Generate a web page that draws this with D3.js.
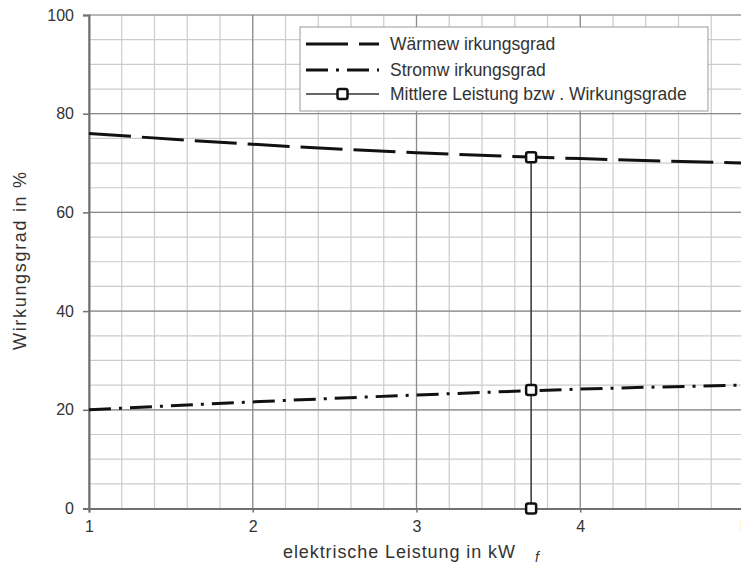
<!DOCTYPE html>
<html>
<head>
<meta charset="utf-8">
<script src="https://cdn.jsdelivr.net/npm/d3@7"></script>
<style>
  body { margin: 0; background: #fff; }
  svg { display: block; font-family: "Liberation Sans", Arial, sans-serif; }
</style>
</head>
<body>
<script>
// Werte
var leistung = [1, 2, 3, 4, 5]
var waermeWirkungsgrad = [76, 73.8, 72.1, 70.9, 70]
var stromWirkungsgrad = [20, 21.6, 23, 24.2, 25]
var mittlereLeistung = 3.7
var mittlereWerte = [0, 24, 71.2]
var xTicks = [1, 2, 3, 4, 5]
var yTicks = [0, 20, 40, 60, 80, 100]
var legendLabels = ["Wärmew irkungsgrad", "Stromw irkungsgrad", "Mittlere Leistung bzw . Wirkungsgrade"]

var width = 741, height = 565

var svg = d3.select("body").append("svg")
    .attr("width", width)
    .attr("height", height)

var x = d3.scaleLinear().domain([1, 5]).range([89, 744])
var y = d3.scaleLinear().domain([0, 100]).range([508.5, 15])

// Gitter
var g = svg.append("g")
g.selectAll(".minx").data(d3.range(1, 5.001, 0.2)).join("line")
    .attr("x1", d => x(d)).attr("x2", d => x(d))
    .attr("y1", y(0)).attr("y2", y(100))
    .attr("stroke", "#cccccc").attr("stroke-width", 1.2)
g.selectAll(".miny").data(d3.range(0, 100.1, 5)).join("line")
    .attr("x1", x(1)).attr("x2", x(5))
    .attr("y1", d => y(d)).attr("y2", d => y(d))
    .attr("stroke", "#cccccc").attr("stroke-width", 1.2)
g.selectAll(".majx").data(xTicks).join("line")
    .attr("x1", d => x(d)).attr("x2", d => x(d))
    .attr("y1", y(0)).attr("y2", y(100))
    .attr("stroke", "#8a8a8a").attr("stroke-width", 1.2)
g.selectAll(".majy").data(yTicks).join("line")
    .attr("x1", x(1)).attr("x2", x(5))
    .attr("y1", d => y(d)).attr("y2", d => y(d))
    .attr("stroke", "#8a8a8a").attr("stroke-width", 1.2)

// Achsen
var xAxis = svg.append("g")
    .attr("transform", "translate(0," + y(0) + ")")
    .call(d3.axisBottom(x).tickValues(xTicks).tickSize(4).tickFormat(d3.format("d")))
var yAxis = svg.append("g")
    .attr("transform", "translate(" + x(1) + ",0)")
    .call(d3.axisLeft(y).tickValues(yTicks).tickSize(6).tickFormat(d3.format("d")))
;[xAxis, yAxis].forEach(function (a) {
  a.select(".domain").attr("stroke", "#707070").attr("stroke-width", 2)
  a.selectAll(".tick line").attr("stroke", "#707070").attr("stroke-width", 1.5)
  a.selectAll("text").attr("fill", "#333").style("font-size", "16px")
})
xAxis.selectAll("text").attr("y", 12).attr("dy", "0.71em")
yAxis.selectAll("text").attr("x", -15)

// Kurven
var line = d3.line().x((d, i) => x(leistung[i])).y(d => y(d)).curve(d3.curveMonotoneX)
svg.append("path").datum(waermeWirkungsgrad)
    .attr("d", line).attr("fill", "none")
    .attr("stroke", "#111").attr("stroke-width", 3)
    .attr("stroke-dasharray", "42,11")
svg.append("path").datum(stromWirkungsgrad)
    .attr("d", line).attr("fill", "none")
    .attr("stroke", "#111").attr("stroke-width", 3)
    .attr("stroke-dasharray", "22,8,3,8")

// Mittlere Leistung
svg.append("line")
    .attr("x1", x(mittlereLeistung)).attr("x2", x(mittlereLeistung))
    .attr("y1", y(d3.min(mittlereWerte))).attr("y2", y(d3.max(mittlereWerte)))
    .attr("stroke", "#333").attr("stroke-width", 1.5)
svg.selectAll(".mark").data(mittlereWerte).join("rect")
    .attr("x", x(mittlereLeistung) - 5).attr("y", d => y(d) - 5)
    .attr("width", 10).attr("height", 10).attr("rx", 2)
    .attr("fill", "#fff").attr("stroke", "#111").attr("stroke-width", 2.5)

// Legende
var lg = svg.append("g").attr("transform", "translate(300,27)")
lg.append("rect").attr("width", 408).attr("height", 84)
    .attr("fill", "#fff").attr("stroke", "#999").attr("stroke-width", 1)
var ly = [17, 43, 67]
lg.append("line").attr("x1", 6).attr("x2", 79).attr("y1", ly[0]).attr("y2", ly[0])
    .attr("stroke", "#111").attr("stroke-width", 3).attr("stroke-dasharray", "42,11")
lg.append("line").attr("x1", 6).attr("x2", 79).attr("y1", ly[1]).attr("y2", ly[1])
    .attr("stroke", "#111").attr("stroke-width", 3).attr("stroke-dasharray", "22,8,3,8")
lg.append("line").attr("x1", 6).attr("x2", 79).attr("y1", ly[2]).attr("y2", ly[2])
    .attr("stroke", "#333").attr("stroke-width", 1.5)
lg.append("rect").attr("x", 37.5).attr("y", ly[2] - 5).attr("width", 10).attr("height", 10).attr("rx", 2)
    .attr("fill", "#fff").attr("stroke", "#111").attr("stroke-width", 2.5)
lg.selectAll(".lt").data(legendLabels).join("text")
    .attr("x", 90).attr("y", (d, i) => ly[i]).attr("dy", "0.35em")
    .attr("fill", "#333").style("font-size", "17.5px").text(d => d)

// Achsentitel
svg.append("text")
    .attr("transform", "translate(26,261) rotate(-90)")
    .attr("text-anchor", "middle").attr("fill", "#333").style("font-size", "18px")
    .attr("textLength", 178).attr("lengthAdjust", "spacing")
    .text("Wirkungsgrad in %")
svg.append("text")
    .attr("x", 283).attr("y", 558)
    .attr("fill", "#333").style("font-size", "18px")
    .attr("textLength", 232).attr("lengthAdjust", "spacing")
    .text("elektrische Leistung in kW")
svg.append("text")
    .attr("x", 535).attr("y", 562)
    .attr("fill", "#333").style("font-size", "14px").style("font-style", "italic")
    .text("f")
</script>
</body>
</html>
